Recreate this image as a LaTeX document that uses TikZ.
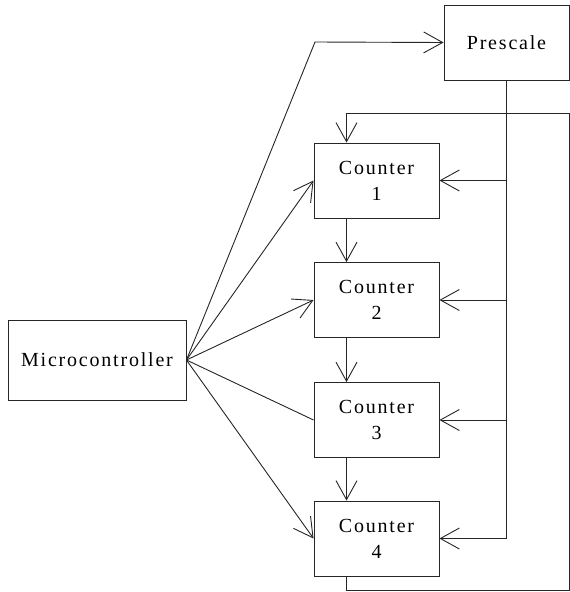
\documentclass[tikz,border=0pt]{standalone}
\usepackage{fontspec}
\newfontfamily\lblfont{Liberation Serif}[LetterSpace=9]
\usetikzlibrary{arrows.meta}
\tikzset{
  bx/.style={draw=black!85,line width=0.9pt,minimum width=125pt,minimum height=75pt,
    inner sep=0pt,align=center,font=\lblfont\fontsize{20}{26}\selectfont},
  ln/.style={draw=black!85,line width=0.9pt},
  ed/.style={ln,-{Straight Barb[length=19pt,width=21pt]}},
}

\begin{document}
\begin{tikzpicture}[x=1pt,y=-1pt]
  \useasboundingbox (0,0) rectangle (570,592);

  \node[bx,minimum width=178pt,minimum height=80pt] (mc) at (97,360) {Microcontroller};
  \node[bx] (pre) at (506.5,42.5) {Prescale};
  \node[bx] (c1) at (376.5,180.5) {Counter\\1};
  \node[bx] (c2) at (376.5,300) {Counter\\2};
  \node[bx] (c3) at (376.5,420) {Counter\\3};
  \node[bx] (c4) at (376.5,538.5) {Counter\\4};

  % prescaler bus
  \draw[ed] (pre.south) |- (c4.east);
  \foreach \c in {c1,c2,c3}
    \draw[ed] (pre.south |- \c.east) -- (\c.east);

  % counter chain
  \foreach \a/\b in {c1/c2,c2/c3,c3/c4}
    \draw[ed] ([xshift=-30pt]\a.south) -- ([xshift=-30pt]\b.north);

  % overflow back to the first counter
  \draw[ed] ([xshift=-30pt]c4.south) -- ++(0,14) -| (569,113) -| ([xshift=-30pt]c1.north);

  % controller lines
  \draw[ed] (mc.east) -- (315,42) -- (pre.west);
  \draw[ed] (mc.east) -- (c1.west);
  \draw[ed] (mc.east) -- (c2.west);
  \draw[ln] (mc.east) -- (c3.west);
  \draw[ed] (mc.east) -- (c4.west);
\end{tikzpicture}
\end{document}
